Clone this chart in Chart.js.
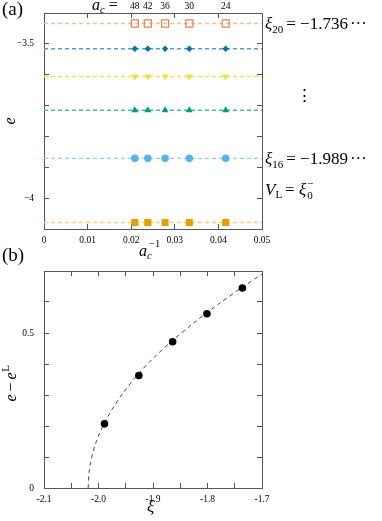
<!DOCTYPE html>
<html>
<head>
<meta charset="utf-8">
<script src="https://cdn.jsdelivr.net/npm/chart.js@4/dist/chart.umd.min.js"></script>
<style>
  body { margin: 0; background: #fff; }
  #wrap { position: relative; width: 382px; height: 521px; }
  canvas { position: absolute; left: 0; }
</style>
</head>
<body>
<div id="wrap">
  <canvas id="panelA" width="382" height="260" style="top:0"></canvas>
  <canvas id="panelB" width="382" height="277" style="top:244px"></canvas>
</div>
<script>
// system sizes a_c and their inverse (x axis of panel a)
const acSizes = [48, 42, 36, 30, 24];
const invAc = acSizes.map(a => 1 / a);

// energy levels e, one value per a_c
const e20 = [-3.434, -3.434, -3.434, -3.434, -3.434];
const eBlue = [-3.516, -3.516, -3.516, -3.516, -3.516];
const eYellow = [-3.606, -3.606, -3.606, -3.606, -3.606];
const eGreen = [-3.715, -3.715, -3.715, -3.715, -3.715];
const e16 = [-3.871, -3.871, -3.871, -3.871, -3.871];
const eL = [-4.079, -4.079, -4.079, -4.079, -4.079];

// panel (b): xi vs e - e^L
const xiValues = [-1.989, -1.926, -1.864, -1.801, -1.736];
const gapValues = [0.207, 0.363, 0.472, 0.562, 0.645];

// dashed fit curve in panel (b)
const curveX = [-2.019, -2.017, -2.014, -2.010, -2.005, -1.998, -1.989, -1.975, -1.955, -1.930, -1.900, -1.860, -1.820, -1.780, -1.740, -1.700];
const curveY = [0, 0.055, 0.086, 0.116, 0.145, 0.177, 0.210, 0.254, 0.306, 0.362, 0.418, 0.482, 0.540, 0.593, 0.643, 0.690];

const SERIF = '"Liberation Serif", "DejaVu Serif", serif';
const axisColor = '#555';

// draw text made of several pieces (for subscripts / superscripts)
function rich(ctx, x, y, parts) {
    let cx = x;
    parts.forEach(p => {
        ctx.font = (p.italic ? 'italic ' : '') + p.size + 'px ' + (p.family || SERIF);
        ctx.fillText(p.t, cx, y + (p.dy || 0));
        cx += ctx.measureText(p.t).width + (p.gap || 0);
    });
    return cx;
}

function near(v, target) {
    return Math.abs(v - target) < 1e-6;
}

// fixed box size, no extra padding for label overhang
function fixSize(position, size) {
    return s => {
        if (position === 'top' || position === 'bottom') s.height = size; else s.width = size;
        s.paddingTop = 0; s.paddingBottom = 0; s.paddingLeft = 0; s.paddingRight = 0;
    };
}

// axis with only inward tick marks (mirror of the labelled one)
function mirrorAxis(position, min, max, step, size) {
    return {
        type: 'linear', position: position, min: min, max: max,
        ticks: { display: false, stepSize: step },
        grid: { drawOnChartArea: false, tickLength: -5, color: axisColor },
        border: { color: axisColor, width: 1 },
        afterFit: fixSize(position, size)
    };
}

function points(xs, ys) {
    return xs.map((x, i) => ({ x: x, y: ys[i] }));
}

// ---------- panel (a) ----------
const seriesA = [
    { ys: e20, color: '#e8834a', line: '#f3bb96', style: 'rect', radius: 5, fill: 'rgba(0,0,0,0)', rot: 0 },
    { ys: eBlue, color: '#0072b2', line: '#4f9fd6', style: 'rectRot', radius: 3.2, fill: '#0072b2', rot: 0 },
    { ys: eYellow, color: '#ece23c', line: '#ece25e', style: 'triangle', radius: 4, fill: '#ece23c', rot: 180 },
    { ys: eGreen, color: '#009e73', line: '#48bd98', style: 'triangle', radius: 4, fill: '#009e73', rot: 0 },
    { ys: e16, color: '#56b4e9', line: '#94cff2', style: 'circle', radius: 3.8, fill: '#56b4e9', rot: 0 },
    { ys: eL, color: '#e69f00', line: '#f3d088', style: 'rect', radius: 5, fill: '#e69f00', rot: 0 }
];

const datasetsA = [];
seriesA.forEach(s => {
    datasetsA.push({
        data: points(invAc, s.ys),
        showLine: false,
        pointStyle: s.style,
        pointRadius: s.radius,
        pointRotation: s.rot,
        pointBackgroundColor: s.fill,
        pointBorderColor: s.color,
        pointBorderWidth: s.style === 'rect' && s.fill !== s.color ? 1.2 : 0,
        order: 0
    });
    datasetsA.push({
        data: points([0, 0.05], [s.ys[0], s.ys[0]]),
        showLine: true,
        borderColor: s.line,
        borderWidth: 1.4,
        borderDash: [4, 3],
        pointRadius: 0,
        order: 1
    });
});

const labelsA = {
    id: 'labelsA',
    afterDraw(chart) {
        const ctx = chart.ctx;
        const x = chart.scales.x;
        const y = chart.scales.y;
        ctx.save();
        ctx.fillStyle = '#000';
        ctx.textBaseline = 'alphabetic';
        // panel tag
        ctx.font = '19px ' + SERIF;
        ctx.fillText('(a)', 2, 15);
        // a_c labels along the top
        rich(ctx, 92, 10, [
            { t: 'a', size: 16, italic: true },
            { t: 'c', size: 10.5, italic: true, dy: 3, gap: 4 },
            { t: '=', size: 16 }
        ]);
        ctx.font = '9.5px ' + SERIF;
        ctx.textAlign = 'center';
        acSizes.forEach((a, i) => ctx.fillText(String(a), x.getPixelForValue(invAc[i]), 9));
        // x axis title
        ctx.textAlign = 'left';
        rich(ctx, 139, 256, [
            { t: 'a', size: 16, italic: true },
            { t: 'c', size: 10.5, italic: true, dy: 3 }
        ]);
        rich(ctx, 149, 247, [{ t: '\u22121', size: 10.5 }]);
        // y axis title
        ctx.save();
        ctx.translate(15, (y.top + y.bottom) / 2);
        ctx.rotate(-Math.PI / 2);
        ctx.textAlign = 'center';
        ctx.font = 'italic 16px ' + SERIF;
        ctx.fillText('e', 0, 0);
        ctx.restore();
        // right-hand annotations
        const rx = 265;
        const y20 = y.getPixelForValue(e20[0]) + 6;
        rich(ctx, rx, y20, [
            { t: '\u03be', size: 17, italic: true },
            { t: '20', size: 11, dy: 4, gap: 3 },
            { t: '= \u22121.736', size: 17, gap: 2 },
            { t: '\u00b7\u00b7\u00b7', size: 17 }
        ]);
        const y16 = y.getPixelForValue(e16[0]) + 6;
        rich(ctx, rx, y16, [
            { t: '\u03be', size: 17, italic: true },
            { t: '16', size: 11, dy: 4, gap: 3 },
            { t: '= \u22121.989', size: 17, gap: 2 },
            { t: '\u00b7\u00b7\u00b7', size: 17 }
        ]);
        const end = rich(ctx, rx, 195, [
            { t: 'V', size: 17, italic: true },
            { t: 'L', size: 11, dy: 3, gap: 3 },
            { t: '= ', size: 17 },
            { t: '\u03be', size: 17, italic: true }
        ]);
        rich(ctx, end + 1, 199, [{ t: '0', size: 11 }]);
        rich(ctx, end + 1, 187, [{ t: '\u2212', size: 11 }]);
        ctx.font = '17px "DejaVu Serif"';
        ctx.fillText('\u22ee', 296, 101);
        ctx.restore();
    }
};

new Chart(document.getElementById('panelA'), {
    type: 'scatter',
    data: { datasets: datasetsA },
    options: {
        responsive: false,
        animation: false,
        layout: { padding: 0 },
        plugins: { legend: { display: false }, tooltip: { enabled: false } },
        scales: {
            x: {
                type: 'linear', position: 'bottom', min: 0, max: 0.05,
                ticks: {
                    stepSize: 0.01, padding: 11, color: '#000',
                    font: { family: SERIF, size: 9.5 },
                    maxRotation: 0,
                    callback: v => near(v, 0) ? '0' : v.toFixed(2)
                },
                grid: { drawOnChartArea: false, tickLength: -5, color: axisColor },
                border: { color: axisColor, width: 1 },
                afterFit: fixSize('bottom', 31)
            },
            xTop: mirrorAxis('top', 0, 0.05, 0.01, 13),
            y: {
                type: 'linear', position: 'left', min: -4.1, max: -3.4,
                ticks: {
                    stepSize: 0.1, padding: 15, color: '#000',
                    font: { family: SERIF, size: 9.5 },
                    callback: v => near(v, -3.5) ? '\u22123.5' : (near(v, -4) ? '\u22124' : '')
                },
                grid: { drawOnChartArea: false, tickLength: -5, color: axisColor },
                border: { color: axisColor, width: 1 },
                afterFit: fixSize('left', 44)
            },
            yRight: mirrorAxis('right', -4.1, -3.4, 0.1, 120)
        }
    },
    plugins: [labelsA]
});

// ---------- panel (b) ----------
const labelsB = {
    id: 'labelsB',
    afterDraw(chart) {
        const ctx = chart.ctx;
        const y = chart.scales.y;
        ctx.save();
        ctx.fillStyle = '#000';
        ctx.textBaseline = 'alphabetic';
        ctx.font = '19px ' + SERIF;
        ctx.fillText('(b)', 2, 17);
        // x title
        rich(ctx, 147, 268, [{ t: '\u03be', size: 17, italic: true }]);
        // y title
        ctx.translate(16, (y.top + y.bottom) / 2);
        ctx.rotate(-Math.PI / 2);
        const w = 44;
        const end = rich(ctx, -w / 2, 0, [
            { t: 'e', size: 16, italic: true, gap: 3 },
            { t: '\u2212', size: 16, gap: 3 },
            { t: 'e', size: 16, italic: true }
        ]);
        rich(ctx, end + 0.5, -7, [{ t: 'L', size: 11 }]);
        ctx.restore();
    }
};

new Chart(document.getElementById('panelB'), {
    type: 'scatter',
    data: {
        datasets: [
            {
                data: points(xiValues, gapValues),
                showLine: false,
                pointStyle: 'circle',
                pointRadius: 3.8,
                pointBackgroundColor: '#000',
                pointBorderWidth: 0,
                order: 0
            },
            {
                data: points(curveX, curveY),
                showLine: true,
                borderColor: '#333',
                borderWidth: 0.9,
                borderDash: [4, 3.5],
                tension: 0.3,
                pointRadius: 0,
                order: 1
            }
        ]
    },
    options: {
        responsive: false,
        animation: false,
        layout: { padding: 0 },
        plugins: { legend: { display: false }, tooltip: { enabled: false } },
        scales: {
            x: {
                type: 'linear', position: 'bottom', min: -2.1, max: -1.7,
                ticks: {
                    stepSize: 0.05, padding: 11, color: '#000',
                    font: { family: SERIF, size: 9.5 },
                    maxRotation: 0, autoSkip: false,
                    callback: v => Math.round(v * 100) % 10 === 0 ? v.toFixed(1) : ''
                },
                grid: { drawOnChartArea: false, tickLength: -5, color: axisColor },
                border: { color: axisColor, width: 1 },
                afterFit: fixSize('bottom', 33)
            },
            xTop: mirrorAxis('top', -2.1, -1.7, 0.05, 27),
            y: {
                type: 'linear', position: 'left', min: 0, max: 0.7,
                ticks: {
                    stepSize: 0.1, padding: 15, color: '#000',
                    font: { family: SERIF, size: 9.5 },
                    callback: v => near(v, 0) ? '0' : (near(v, 0.5) ? '0.5' : '')
                },
                grid: { drawOnChartArea: false, tickLength: -5, color: axisColor },
                border: { color: axisColor, width: 1 },
                afterFit: fixSize('left', 44)
            },
            yRight: mirrorAxis('right', 0, 0.7, 0.1, 120)
        }
    },
    plugins: [labelsB]
});
</script>
</body>
</html>
